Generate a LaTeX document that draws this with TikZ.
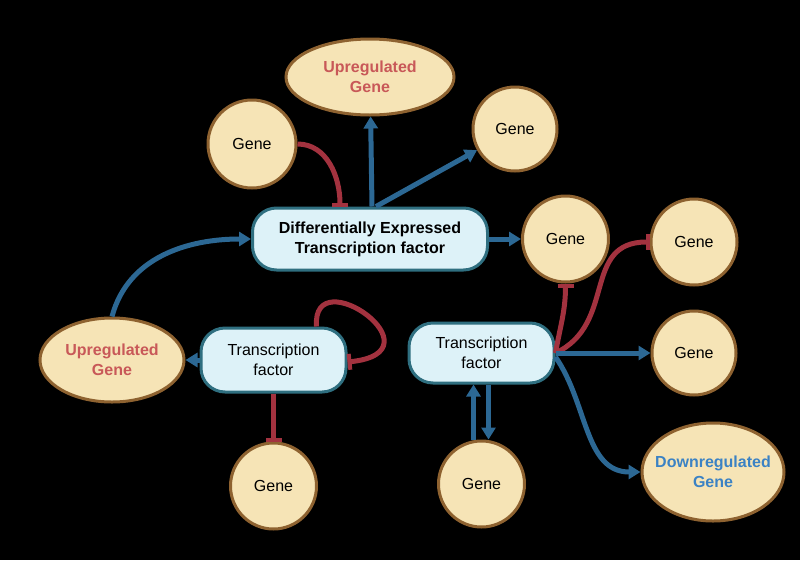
\documentclass[tikz,border=0pt]{standalone}
\usepackage{fontspec}
\setmainfont{Liberation Sans}
\usepackage{xcolor}
\usetikzlibrary{positioning, arrows.meta, shapes.geometric}

\definecolor{genefill}{HTML}{F6E4B6}
\definecolor{genedraw}{HTML}{8E6230}
\definecolor{tffill}{HTML}{DDF2F8}
\definecolor{tfdraw}{HTML}{2F6F80}
\definecolor{actblue}{HTML}{2C6894}
\definecolor{inhred}{HTML}{A3323F}
\definecolor{upred}{HTML}{C85858}
\definecolor{downblue}{HTML}{3B82C4}

\begin{document}
\begin{tikzpicture}[
    x=1pt, y=1pt,
    genebox/.style={
        circle,
        draw=genedraw,
        fill=genefill,
        line width=3pt,
        minimum size=86pt,
        inner sep=0pt,
        align=center,
        font=\fontsize{16}{20}\selectfont
    },
    regbox/.style={
        ellipse,
        draw=genedraw,
        fill=genefill,
        line width=3pt,
        inner sep=0pt,
        align=center,
        font=\fontsize{16}{20}\selectfont\bfseries
    },
    tfbox/.style={
        rectangle,
        draw=tfdraw,
        fill=tffill,
        line width=3pt,
        rounded corners=24pt,
        minimum height=62pt,
        align=center,
        font=\fontsize{16}{20}\selectfont
    },
    act/.style={-{Triangle[length=12pt,width=14pt]}, line width=5pt, actblue},
    inhib/.style={-{Bar[width=16pt,line width=4pt]}, line width=5pt, inhred}
]
    % Canvas
    \fill[black] (0,0) rectangle (800,-560);
    \useasboundingbox (0,0) rectangle (800,-560);

    % Differentially expressed TF
    \node[tfbox, minimum width=235pt, font=\fontsize{16}{20}\selectfont\bfseries] (detf) at (370,-239) {Differentially Expressed\\Transcription factor};
    \node[regbox, text=upred, minimum width=168pt, minimum height=76pt, above=90pt of detf] (uptop) {Upregulated\\Gene};
    \node[genebox, minimum size=88pt] (genetl) at (252,-144) {Gene};
    \node[genebox, minimum size=84pt] (genetr) at (515,-129) {Gene};
    \node[genebox, right=32pt of detf] (genede) {Gene};

    % Lower left
    \node[regbox, text=upred, minimum width=144pt, minimum height=84pt] (upleft) at (112,-360) {Upregulated\\Gene};
    \node[tfbox, minimum width=145pt, minimum height=64pt, right=14pt of upleft] (tfleft) {Transcription\\factor};
    \node[genebox, below=48pt of tfleft] (genebl) {Gene};

    % Lower right
    \node[tfbox, minimum width=145pt, minimum height=60pt, right=60pt of tfleft, yshift=7pt] (tfright) {Transcription\\factor};
    \node[genebox, below=55pt of tfright] (genebm) {Gene};
    \node[genebox, minimum size=84pt, right=95pt of tfright] (genemr) {Gene};
    \node[genebox, above=23pt of genemr] (genefr) {Gene};
    \node[regbox, text=downblue, inner xsep=-9pt, minimum width=142pt, minimum height=98pt, below=25pt of genemr, xshift=19pt] (down) {Downregulated\\Gene};

    % Arrows
    \draw[inhib] (genetl.east) to[out=0, in=90] ([xshift=-30pt]detf.north);
    \draw[act] ([xshift=2pt]detf.north) -- (uptop);
    \draw[act] ([xshift=6pt]detf.north) -- (genetr);
    \draw[act] (detf.east) -- (genede);
    \draw[act] (upleft.north) to[out=75, in=180] (detf.west);

    \draw[act] (tfleft.west) -- (upleft.east);
    \draw[inhib] ([xshift=43pt]tfleft.north) .. controls +(-5,68) and +(97,10) .. ([yshift=-2pt]tfleft.east);
    \draw[inhib] (tfleft) -- (genebl);

    \draw[inhib] (tfright.east) to[out=80, in=-90] (genede.south);
    \draw[inhib] (tfright.east) to[out=25, in=180, looseness=1.2] (genefr.west);
    \draw[act] (tfright.east) -- (genemr);
    \draw[act] ([yshift=-4pt]tfright.east) to[out=-55, in=180] (down.west);
    \draw[act] ([xshift=-8pt]genebm.north) -- ([xshift=-8pt]tfright.south);
    \draw[act] ([xshift=7pt]tfright.south) -- ([xshift=7pt]genebm.north);
\end{tikzpicture}
\end{document}
